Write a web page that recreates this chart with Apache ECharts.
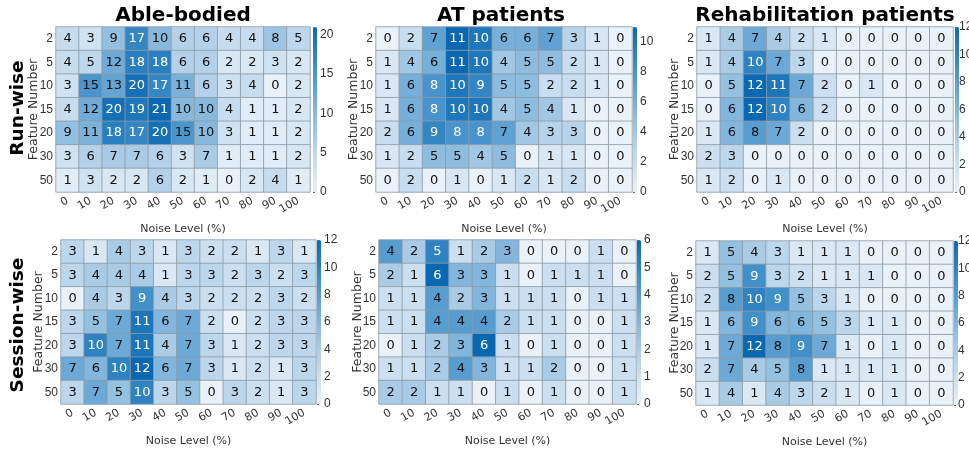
<!DOCTYPE html>
<html>
<head>
<meta charset="utf-8">
<script src="https://cdn.jsdelivr.net/npm/echarts@6/dist/echarts.min.js"></script>
<style>
  html, body { margin: 0; padding: 0; background: #fff; }
  #chart { width: 969px; height: 450px; }
</style>
</head>
<body>
<div id="chart"></div>
<script>
// axis categories
var noiseLevels = ['0', '10', '20', '30', '40', '50', '60', '70', '80', '90', '100'];
var featureNumbers = ['2', '5', '10', '15', '20', '30', '50'];

// counts, one row per feature number, one column per noise level
var ableRun = [
  [4, 3, 9, 17, 10, 6, 6, 4, 4, 8, 5],
  [4, 5, 12, 18, 18, 6, 6, 2, 2, 3, 2],
  [3, 15, 13, 20, 17, 11, 6, 3, 4, 0, 2],
  [4, 12, 20, 19, 21, 10, 10, 4, 1, 1, 2],
  [9, 11, 18, 17, 20, 15, 10, 3, 1, 1, 2],
  [3, 6, 7, 7, 6, 3, 7, 1, 1, 1, 2],
  [1, 3, 2, 2, 6, 2, 1, 0, 2, 4, 1]
];
var atRun = [
  [0, 2, 7, 11, 10, 6, 6, 7, 3, 1, 0],
  [1, 4, 6, 11, 10, 4, 5, 5, 2, 1, 0],
  [1, 6, 8, 10, 9, 5, 5, 2, 2, 1, 0],
  [1, 6, 8, 10, 10, 4, 5, 4, 1, 0, 0],
  [2, 6, 9, 8, 8, 7, 4, 3, 3, 0, 0],
  [1, 2, 5, 5, 4, 5, 0, 1, 1, 0, 0],
  [0, 2, 0, 1, 0, 1, 2, 1, 2, 0, 0]
];
var rehabRun = [
  [1, 4, 7, 4, 2, 1, 0, 0, 0, 0, 0],
  [1, 4, 10, 7, 3, 0, 0, 0, 0, 0, 0],
  [0, 5, 12, 11, 7, 2, 0, 1, 0, 0, 0],
  [0, 6, 12, 10, 6, 2, 0, 0, 0, 0, 0],
  [1, 6, 8, 7, 2, 0, 0, 0, 0, 0, 0],
  [2, 3, 0, 0, 0, 0, 0, 0, 0, 0, 0],
  [1, 2, 0, 1, 0, 0, 0, 0, 0, 0, 0]
];
var ableSession = [
  [3, 1, 4, 3, 1, 3, 2, 2, 1, 3, 1],
  [3, 4, 4, 4, 1, 3, 3, 2, 3, 2, 3],
  [0, 4, 3, 9, 4, 3, 2, 2, 2, 3, 2],
  [3, 5, 7, 11, 6, 7, 2, 0, 2, 3, 3],
  [3, 10, 7, 11, 4, 7, 3, 1, 2, 3, 3],
  [7, 6, 10, 12, 6, 7, 3, 1, 2, 1, 3],
  [3, 7, 5, 10, 3, 5, 0, 3, 2, 1, 3]
];
var atSession = [
  [4, 2, 5, 1, 2, 3, 0, 0, 0, 1, 0],
  [2, 1, 6, 3, 3, 1, 0, 1, 1, 1, 0],
  [1, 1, 4, 2, 3, 1, 1, 1, 0, 1, 1],
  [1, 1, 4, 4, 4, 2, 1, 1, 0, 0, 1],
  [0, 1, 2, 3, 6, 1, 0, 1, 0, 0, 1],
  [1, 1, 2, 4, 3, 1, 1, 2, 0, 0, 1],
  [2, 2, 1, 1, 0, 1, 0, 1, 0, 0, 1]
];
var rehabSession = [
  [1, 5, 4, 3, 1, 1, 1, 0, 0, 0, 0],
  [2, 5, 9, 3, 2, 1, 1, 1, 0, 0, 0],
  [2, 8, 10, 9, 5, 3, 1, 0, 0, 0, 0],
  [1, 6, 9, 6, 6, 5, 3, 1, 1, 0, 0],
  [1, 7, 12, 8, 9, 7, 1, 0, 1, 0, 0],
  [2, 7, 4, 5, 8, 1, 1, 1, 1, 0, 0],
  [1, 4, 1, 4, 3, 2, 1, 0, 1, 0, 0]
];
// colour bar ranges and tick steps
var barMax = [21, 11, 12, 12, 6, 12];
var barStep = [5, 2, 2, 2, 1, 2];

var titles = ['Able-bodied', 'AT patients', 'Rehabilitation patients'];
var rowTitles = ['Run-wise', 'Session-wise'];

/*布局*/
var panels = [
  { data: ableRun, box: [56, 27, 254, 165], bar: 313, gap: 16 },
  { data: atRun, box: [376, 27, 256, 165], bar: 633, gap: 16 },
  { data: rehabRun, box: [697, 27, 256, 165], bar: 955, gap: 16 },
  { data: ableSession, box: [61, 240, 255, 164], bar: 317, gap: 16 },
  { data: atSession, box: [379, 240, 257, 164], bar: 637, gap: 15 },
  { data: rehabSession, box: [696, 241, 257, 164], bar: 954, gap: 15 }
];

var NARROW = "'Liberation Sans', Arial, sans-serif";
var FONT = "'DejaVu Sans', sans-serif";
var blues = ['#e9f1f9', '#bcd6eb', '#82b6dc', '#4290c9', '#0a68b3'];

var grid = [], xAxis = [], yAxis = [], series = [], visualMap = [];

panels.forEach(function(p, i) {
  var b = p.box;
  grid.push({ left: b[0], top: b[1], width: b[2], height: b[3] });
  xAxis.push({
    type: 'category', gridIndex: i, data: noiseLevels,
    axisLine: { show: false }, axisTick: { show: false }, splitLine: { show: false },
    axisLabel: { rotate: 30, interval: 0, fontSize: 11, color: '#333', margin: 8, fontFamily: FONT },
    name: 'Noise Level (%)', nameLocation: 'middle', nameGap: 32, nameMoveOverlap: false,
    nameTextStyle: { fontSize: 11, color: '#333', fontFamily: FONT }
  });
  yAxis.push({
    type: 'category', gridIndex: i, data: featureNumbers, inverse: true,
    axisLine: { show: false }, axisTick: { show: false }, splitLine: { show: false },
    axisLabel: { fontSize: 12, color: '#333', margin: 3, fontFamily: NARROW },
    name: 'Feature Number', nameLocation: 'middle', nameGap: p.gap, nameMoveOverlap: false,
    nameTextStyle: { fontSize: 12.5, color: '#333', fontFamily: FONT }
  });
  var cells = [];
  for (var r = 0; r < featureNumbers.length; r++) {
    for (var c = 0; c < noiseLevels.length; c++) {
      var v = p.data[r][c];
      cells.push({
        value: [c, r, v],
        label: { color: v / barMax[i] > 0.72 ? '#ffffff' : '#111111' }
      });
    }
  }
  series.push({
    type: 'heatmap', xAxisIndex: i, yAxisIndex: i, data: cells,
    itemStyle: { borderColor: '#8d9aa6', borderWidth: 0.8 },
    label: { show: true, fontSize: 13, fontFamily: FONT,
      formatter: function(o) { return o.value[2]; } },
    emphasis: { disabled: true }
  });
  visualMap.push({
    type: 'continuous', seriesIndex: i, min: 0, max: barMax[i],
    calculable: false, orient: 'vertical', padding: 0,
    left: p.bar, top: b[1], itemWidth: 4, itemHeight: b[3],
    text: null, showLabel: false,
    inRange: { color: blues }
  });
});

/*色条刻度*/
panels.forEach(function(p, i) {
  var b = p.box;
  var step = barStep[i];
  grid.push({ left: p.bar, top: b[1], width: 4, height: b[3] });
  xAxis.push({ type: 'value', gridIndex: 6 + i, show: false, min: 0, max: 1 });
  yAxis.push({
    type: 'value', gridIndex: 6 + i, position: 'right', min: 0, max: barMax[i], interval: step,
    axisLine: { show: false }, splitLine: { show: false },
    axisTick: { show: true, length: 2, lineStyle: { color: '#666' } },
    axisLabel: { fontSize: 12, color: '#333', margin: 3, fontFamily: NARROW,
      formatter: function(v) { return v % step === 0 ? v : ''; } }
  });
});

var graphic = [];
var titleX = [183, 501, 825];
titles.forEach(function(t, i) {
  graphic.push({
    type: 'text', x: titleX[i], y: 16,
    style: { text: t, fontSize: 20, fontWeight: 'bold', fontFamily: FONT,
      fill: '#000', align: 'center', verticalAlign: 'middle',
      textAlign: 'center', textVerticalAlign: 'middle' }
  });
});
var rowY = [108, 325];
rowTitles.forEach(function(t, i) {
  graphic.push({
    type: 'text', x: 18, y: rowY[i], rotation: Math.PI / 2,
    style: { text: t, fontSize: 18.5, fontWeight: 'bold', fontFamily: FONT,
      fill: '#000', align: 'center', verticalAlign: 'middle',
      textAlign: 'center', textVerticalAlign: 'middle' }
  });
});

var myChart = echarts.init(document.getElementById('chart'));
myChart.setOption({
  animation: false,
  grid: grid,
  xAxis: xAxis,
  yAxis: yAxis,
  visualMap: visualMap,
  series: series,
  graphic: graphic
});
</script>
</body>
</html>
